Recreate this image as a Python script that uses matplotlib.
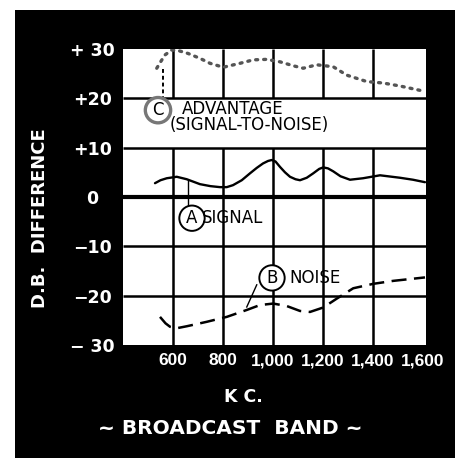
import matplotlib
matplotlib.use("Agg")
import matplotlib.pyplot as plt
from matplotlib.patches import Rectangle

# -------------------------
# Data
# -------------------------
kc_ticks = [600, 800, 1000, 1200, 1400, 1600]
kc_tick_labels = ["600", "800", "1,000", "1,200", "1,400", "1,600"]
db_ticks = [30, 20, 10, 0, -10, -20, -30]
db_tick_labels = ["+ 30", "+20", "+10", "0", "\u221210", "\u221220", "\u2212 30"]

# (A) signal
signal_kc = [528, 550, 575, 615, 655, 708, 750, 788, 815, 840, 875, 908, 935,
             960, 980, 995, 1010, 1028, 1048, 1068, 1090, 1108, 1135, 1161,
             1185, 1201, 1220, 1241, 1270, 1308, 1360, 1428, 1508, 1560, 1608]
signal_db = [2.8, 3.4, 3.8, 4.1, 3.6, 2.6, 2.2, 2.0, 2.0, 2.4, 3.4, 4.8, 5.9,
             6.8, 7.3, 7.5, 7.2, 6.1, 5.0, 4.1, 3.6, 3.4, 3.9, 4.8,
             5.7, 6.0, 5.8, 5.2, 4.2, 3.5, 3.8, 4.4, 3.9, 3.5, 3.0]

# (B) noise
noise_kc = [548, 570, 588, 615, 655, 735, 815, 895, 948, 1001, 1055, 1108,
            1148, 1201, 1255, 1321, 1401, 1481, 1608]
noise_db = [-24.3, -25.6, -26.3, -26.6, -26.2, -25.3, -24.3, -22.9, -21.9,
            -21.6, -22.1, -23.1, -23.3, -22.4, -20.6, -18.5, -17.6, -17.0, -16.3]

# (C) advantage, signal-to-noise
adv_kc = [535, 548, 568, 595, 620, 660, 708, 748, 801, 868, 921, 975, 1028,
          1081, 1121, 1175, 1241, 1295, 1375, 1441, 1508, 1608]
adv_db = [26.1, 27.2, 28.8, 29.8, 29.7, 29.1, 28.1, 27.1, 26.3, 27.1, 27.8,
          27.9, 27.4, 26.6, 26.1, 26.8, 26.4, 24.7, 23.4, 23.1, 22.5, 21.4]

# -------------------------
# Figure
# -------------------------
fig = plt.figure(figsize=(4.55, 4.58), dpi=100, facecolor="black")
# paper margin left and top of the scan
fig.patches.append(Rectangle((0, 0), 15 / 455, 1, transform=fig.transFigure,
                             facecolor="white", edgecolor="none", zorder=0))
fig.patches.append(Rectangle((0, 1 - 10 / 458), 1, 10 / 458,
                             transform=fig.transFigure,
                             facecolor="white", edgecolor="none", zorder=0))

ax = fig.add_axes([123 / 455, 113 / 458, 303 / 455, 296 / 458])
ax.set_facecolor("white")
ax.set_xlim(400, 1612)
ax.set_ylim(-30, 30)
for s in ax.spines.values():
    s.set_visible(False)

# grid (vertical lines leave the label band +10..+20 clear)
ax.hlines([-20, -10, 10, 20], 400, 1612, color="black", lw=1.8, zorder=1)
ax.hlines([0], 400, 1612, color="black", lw=3.0, zorder=1)
ax.vlines(kc_ticks[:-1], -30, 10, color="black", lw=1.8, zorder=1)
ax.vlines(kc_ticks[:-1], 20, 30, color="black", lw=1.8, zorder=1)

# curves
ax.plot(signal_kc, signal_db, color="black", lw=1.7, zorder=3,
        solid_capstyle="round", solid_joinstyle="round")
ax.plot(noise_kc, noise_db, color="black", lw=1.8, zorder=3,
        linestyle=(0, (6, 3)))
ax.plot(adv_kc, adv_db, color="#555555", lw=2.4, zorder=3,
        linestyle=(0, (0.6, 1.8)), dash_capstyle="round")

# pointers to the labels
ax.plot([660, 660], [3.4, -2.0], color="black", lw=1.0, zorder=2)
ax.plot([935, 895], [-17.8, -22.3], color="black", lw=1.0, zorder=2)
ax.plot([560, 560], [26.0, 19.8], color="black", lw=1.4, zorder=2,
        linestyle=(0, (2, 1.5)))

# labels in the plot
circ = dict(boxstyle="circle,pad=0.22", fc="white", ec="black", lw=1.4)
lab = dict(fontsize=12, color="black", va="center", zorder=5)
ax.text(540, 17.6, "C", ha="center",
        bbox=dict(boxstyle="circle,pad=0.22", fc="white", ec="#777777", lw=2.4),
        **lab)
ax.text(636, 17.8, "ADVANTAGE", ha="left", **lab)
ax.text(586, 14.5, "(SIGNAL-TO-NOISE)", ha="left", **lab)
ax.text(676, -4.3, "A", ha="center", bbox=circ, **lab)
ax.text(714, -4.3, "SIGNAL", ha="left", **lab)
ax.text(996, -16.4, "B", ha="center", bbox=circ, **lab)
ax.text(1066, -16.4, "NOISE", ha="left", **lab)

# ticks
ax.set_xticks(kc_ticks)
ax.set_xticklabels(kc_tick_labels)
ax.set_yticks(db_ticks)
ax.set_yticklabels(db_tick_labels)
ax.tick_params(axis="both", length=0, colors="white", labelsize=12.5)
ax.tick_params(axis="x", pad=6)
ax.tick_params(axis="y", pad=22)
for t in ax.get_xticklabels():
    t.set_family(["Liberation Sans", "DejaVu Sans"])
    t.set_fontsize(12.5)
    t.set_fontweight("bold")
for t in ax.get_yticklabels():
    t.set_fontweight("bold")
    t.set_ha("center")

# axis titles
fig.text(40 / 455, 1 - 218 / 458, "D.B.  DIFFERENCE", rotation=90,
         color="white", fontsize=13, fontweight="bold",
         ha="center", va="center")
fig.text(243 / 455, 1 - 397 / 458, "K C.", color="white", fontsize=12.5,
         fontweight="bold", ha="center", va="center")
fig.text(230 / 455, 1 - 428 / 458, "~ BROADCAST  BAND ~", color="white",
         fontsize=14.5, fontweight="bold", ha="center", va="center")

fig.savefig("out.png", dpi=100, facecolor=fig.get_facecolor())
